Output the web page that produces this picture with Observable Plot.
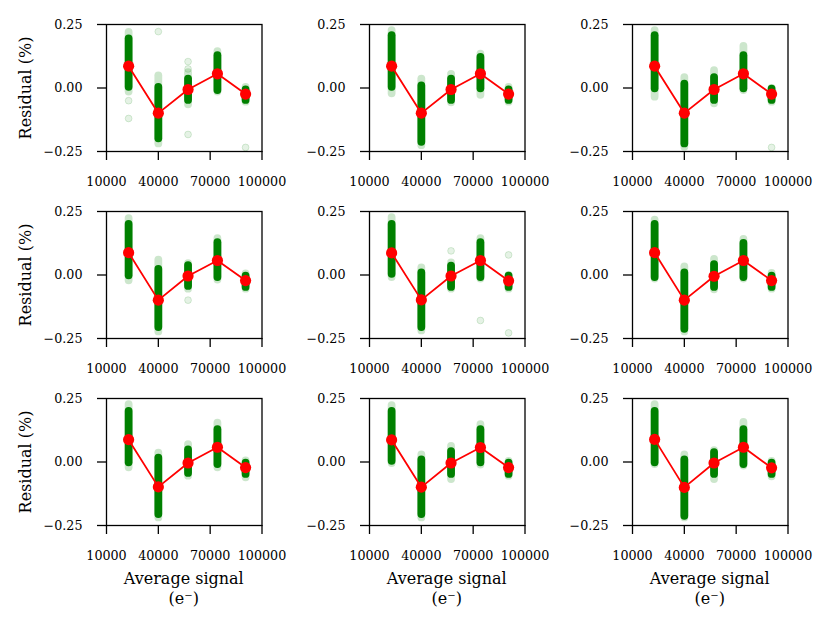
<!DOCTYPE html>
<html><head><meta charset="utf-8">
<script src="https://cdn.jsdelivr.net/npm/d3@7"></script>
<script src="https://cdn.jsdelivr.net/npm/@observablehq/plot@0.6"></script>
<style>
body{margin:0;background:#fff;}
#chart{position:relative;width:830px;height:623px;font-family:"DejaVu Serif",serif;overflow:hidden;}
.panel{position:absolute;}
.lbl{position:absolute;font-family:"DejaVu Serif",serif;font-size:16px;color:#000;white-space:nowrap;line-height:20px;text-align:center;}
</style></head><body><div id="chart"></div>
<script>
// signal levels (e-) of the five exposure groups
const signals = [22800, 40000, 57200, 74200, 90500];
const xTicks = [10000, 40000, 70000, 100000];
const yTicks = [-0.25, 0, 0.25];

// per panel, per signal group: [faint top, dense top, dense bottom, faint bottom] residuals (%)
const ranges1 = [[0.219,0.193,0.003,-0.016],[0.048,0.002,-0.200,-0.220],[0.060,0.035,-0.049,-0.066],[0.143,0.127,-0.010,-0.016],[0.002,-0.007,-0.049,-0.056]];
const ranges2 = [[0.226,0.206,0.003,-0.023],[0.035,0.008,-0.214,-0.227],[0.054,0.035,-0.049,-0.058],[0.133,0.120,-0.003,-0.029],[0.002,-0.007,-0.049,-0.056]];
const ranges3 = [[0.226,0.206,-0.003,-0.036],[0.041,0.015,-0.220,-0.233],[0.068,0.041,-0.049,-0.062],[0.164,0.127,-0.003,-0.010],[-0.002,-0.005,-0.049,-0.056]];
const ranges4 = [[0.222,0.199,-0.003,-0.023],[0.058,0.022,-0.207,-0.224],[0.045,0.037,-0.045,-0.056],[0.143,0.127,-0.010,-0.020],[0.004,-0.005,-0.049,-0.056]];
const ranges5 = [[0.226,0.199,0.003,-0.010],[0.028,0.008,-0.207,-0.220],[0.048,0.035,-0.049,-0.056],[0.143,0.127,-0.010,-0.016],[-0.002,-0.005,-0.049,-0.056]];
const ranges6 = [[0.216,0.199,-0.010,-0.016],[0.032,0.008,-0.214,-0.224],[0.061,0.041,-0.049,-0.058],[0.140,0.124,-0.010,-0.016],[0.006,-0.005,-0.049,-0.056]];
const ranges7 = [[0.226,0.199,-0.003,-0.023],[0.035,0.015,-0.207,-0.220],[0.068,0.048,-0.045,-0.056],[0.153,0.127,-0.010,-0.023],[0.004,-0.005,-0.049,-0.062]];
const ranges8 = [[0.222,0.199,0.003,-0.006],[0.028,0.008,-0.207,-0.220],[0.061,0.041,-0.049,-0.069],[0.147,0.127,-0.003,-0.012],[0.002,-0.005,-0.049,-0.056]];
const ranges9 = [[0.226,0.199,-0.003,-0.010],[0.028,0.008,-0.214,-0.220],[0.045,0.037,-0.049,-0.069],[0.156,0.127,-0.010,-0.016],[0.002,-0.005,-0.049,-0.058]];

// isolated points: [signal group index, residual (%)]
const outliers1 = [[0,-0.050],[0,-0.120],[1,0.222],[2,0.104],[2,0.075],[2,-0.183],[4,-0.234]];
const outliers2 = [];
const outliers3 = [[4,-0.234]];
const outliers4 = [[2,-0.099]];
const outliers5 = [[2,0.095],[3,-0.179],[4,0.079],[4,-0.228]];
const outliers6 = [];
const outliers7 = [];
const outliers8 = [];
const outliers9 = [];

// mean residual per signal group
const means1 = [0.086,-0.099,-0.006,0.056,-0.024];
const means2 = [0.086,-0.099,-0.006,0.056,-0.024];
const means3 = [0.086,-0.099,-0.006,0.056,-0.024];
const means4 = [0.088,-0.099,-0.004,0.057,-0.022];
const means5 = [0.087,-0.098,-0.004,0.057,-0.023];
const means6 = [0.088,-0.099,-0.005,0.057,-0.022];
const means7 = [0.088,-0.098,-0.004,0.058,-0.022];
const means8 = [0.087,-0.099,-0.004,0.057,-0.022];
const means9 = [0.089,-0.100,-0.004,0.058,-0.023];

const allRanges = [ranges1,ranges2,ranges3,ranges4,ranges5,ranges6,ranges7,ranges8,ranges9];
const allOutliers = [outliers1,outliers2,outliers3,outliers4,outliers5,outliers6,outliers7,outliers8,outliers9];
const allMeans = [means1,means2,means3,means4,means5,means6,means7,means8,means9];

const chart = document.getElementById("chart");
const colStep = 263, rowStep = 187;

for (let p = 0; p < 9; p++) {
  const r = Math.floor(p / 3), c = p % 3;
  const rows = allRanges[p].map((d, i) => ({s: signals[i], ft: d[0], dt: d[1], db: d[2], fb: d[3]}));
  const outs = allOutliers[p].map(d => ({s: signals[d[0]], v: d[1]}));
  const meanRows = allMeans[p].map((v, i) => ({s: signals[i], v}));
  const svg = Plot.plot({
    width: 290, height: 187,
    marginLeft: 106, marginRight: 28.5, marginTop: 24, marginBottom: 36,
    style: {fontFamily: "DejaVu Serif", fontSize: "12.7px", background: "transparent", overflow: "visible"},
    x: {domain: [10000, 100000]},
    y: {domain: [-0.25, 0.25]},
    marks: [
      Plot.ruleX(rows, {x: "s", y1: "ft", y2: "fb", stroke: "green", strokeOpacity: 0.2, strokeWidth: 7.8, strokeLinecap: "round"}),
      Plot.ruleX(rows, {x: "s", y1: "dt", y2: "db", stroke: "green", strokeWidth: 7.8, strokeLinecap: "round"}),
      Plot.dot(outs, {x: "s", y: "v", r: 3.4, fill: "green", fillOpacity: 0.1, stroke: "green", strokeOpacity: 0.14, strokeWidth: 1}),
      Plot.line(meanRows, {x: "s", y: "v", stroke: "red", strokeWidth: 1.8}),
      Plot.dot(meanRows, {x: "s", y: "v", r: 5.6, fill: "red"}),
      Plot.axisX({ticks: xTicks, tickFormat: d => String(d), tickSize: 9, tickPadding: 16, strokeWidth: 1.3, label: null}),
      Plot.axisY({ticks: yTicks, tickFormat: d3.format(".2f"), tickSize: 9, tickPadding: 15, strokeWidth: 1.3, label: null}),
      Plot.frame({stroke: "black", strokeWidth: 1.3})
    ]
  });
  svg.classList.add("panel");
  svg.style.left = (c * colStep) + "px";
  svg.style.top = (r * rowStep) + "px";
  chart.appendChild(svg);

  if (c === 0) {
    const yl = document.createElement("div");
    yl.className = "lbl";
    yl.textContent = "Residual (%)";
    yl.style.left = "26px";
    yl.style.top = (87.5 + r * rowStep) + "px";
    yl.style.transform = "translate(-50%,-50%) rotate(-90deg)";
    chart.appendChild(yl);
  }
  if (r === 2) {
    const xl = document.createElement("div");
    xl.className = "lbl";
    xl.innerHTML = "Average signal<br>(e⁻)";
    xl.style.left = (106 + 77.75 + c * colStep) + "px";
    xl.style.top = "569px";
    xl.style.transform = "translateX(-50%)";
    chart.appendChild(xl);
  }
}
</script></body></html>
